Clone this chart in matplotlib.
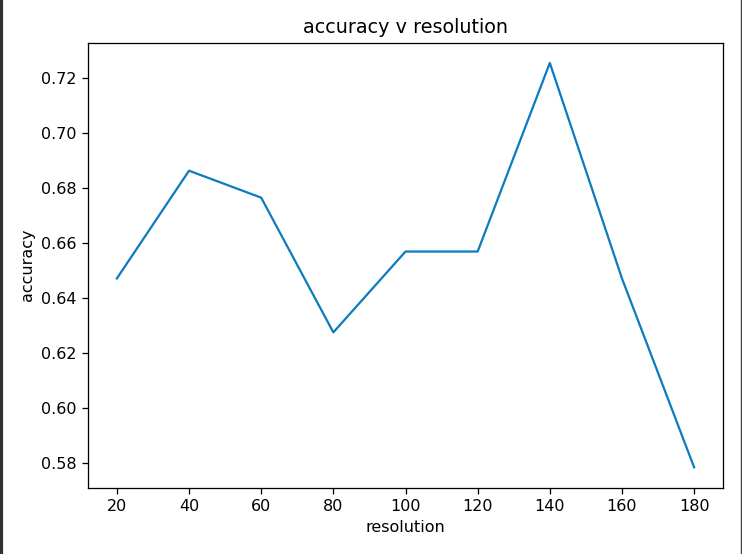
import matplotlib
matplotlib.use('Agg')
import matplotlib.pyplot as plt
from matplotlib.lines import Line2D

# 数据
resolution = [20, 40, 60, 80, 100, 120, 140, 160, 180]
accuracy = [0.6471, 0.6863, 0.6765, 0.6275, 0.6569, 0.6569, 0.7255, 0.6471, 0.5784]

DPI = 115
fig = plt.figure(figsize=(742 / DPI, 554 / DPI), dpi=DPI)
ax = fig.add_axes([0.1186, 0.1199, 0.8558, 0.8030])

ax.plot(resolution, accuracy, color='#0c7bbf', linewidth=1.4)
ax.set_title('accuracy v resolution')
ax.set_xlabel('resolution')
ax.set_ylabel('accuracy')
ax.set_xticks(resolution)

# 截图边框
fig.add_artist(Line2D([0.0013, 0.0013], [0, 1], transform=fig.transFigure,
                      color='#2e3236', linewidth=2.0))
fig.add_artist(Line2D([0.9980, 0.9980], [0, 1], transform=fig.transFigure,
                      color='#444444', linewidth=0.9))

fig.savefig('out.png', dpi=DPI)
